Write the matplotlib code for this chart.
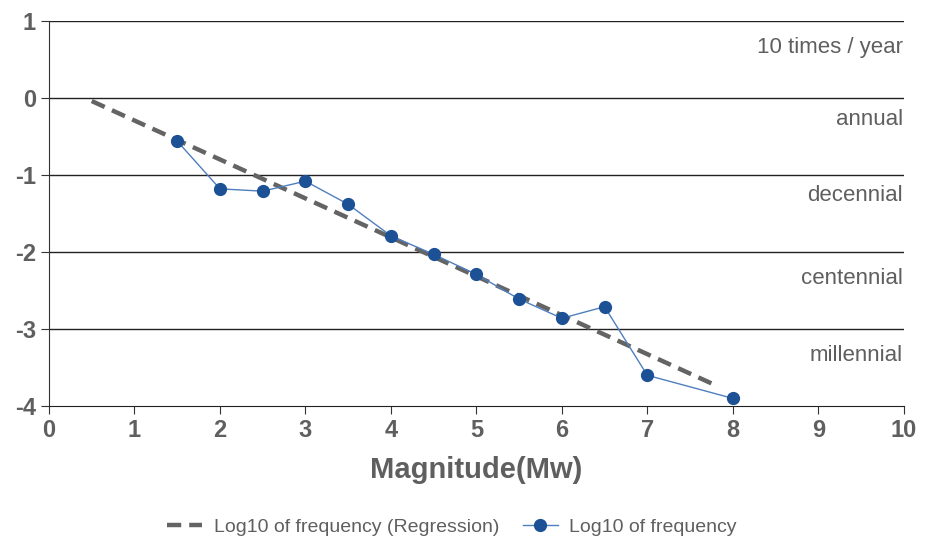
import matplotlib.pyplot as plt

# observed magnitudes and log10 frequencies
magnitude = [1.5, 2, 2.5, 3, 3.5, 4, 4.5, 5, 5.5, 6, 6.5, 7, 8]
log_freq = [-0.56, -1.18, -1.21, -1.08, -1.38, -1.79, -2.03, -2.29, -2.61, -2.86, -2.71, -3.60, -3.90]

# regression line end points
reg_x = [0.5, 7.82]
reg_y = [-0.04, -3.74]

# frequency bands on the right side
band_labels = ["10 times / year", "annual", "decennial", "centennial", "millennial"]
band_y = [0.66, -0.28, -1.26, -2.35, -3.34]

plt.rcParams["axes.unicode_minus"] = False
grey = "#5f5f5f"
font = ["Liberation Sans", "DejaVu Sans"]

fig = plt.figure(figsize=(9.28, 5.51), dpi=100)
ax = fig.add_axes([0.0528, 0.263, 0.921, 0.699])

for yv in range(-3, 2):
    ax.axhline(yv, color="#222222", lw=1.0, zorder=1)

ax.plot(reg_x, reg_y, color="#646464", lw=3.2, ls=(0, (3.2, 1.8)),
        label="Log10 of frequency (Regression)", zorder=2)
ax.plot(magnitude, log_freq, color="#4f7fbf", lw=1.0, marker="o",
        markersize=8.5, markerfacecolor="#1c5196", markeredgecolor="#1c5196",
        label="Log10 of frequency", zorder=3)

for lab, yv in zip(band_labels, band_y):
    ax.text(9.99, yv, lab, ha="right", va="center", fontsize=16,
            color=grey, family=font)

ax.set_xlim(0, 10)
ax.set_ylim(-4, 1)
ax.set_xticks(range(0, 11))
ax.set_yticks(range(-4, 2))
for sp in ["top", "right"]:
    ax.spines[sp].set_visible(False)
ax.spines["left"].set_color("#333333")
ax.spines["bottom"].set_color("#222222")
ax.tick_params(axis="both", colors="#333333", length=6, labelcolor=grey,
               labelsize=17)
for t in ax.get_xticklabels() + ax.get_yticklabels():
    t.set_family(font)
    t.set_fontweight("bold")

ax.set_xlabel("Magnitude(Mw)", fontsize=21, fontweight="bold", color=grey,
              family=font, labelpad=10)

fig.legend(loc="lower center", bbox_to_anchor=(0.487, -0.005), ncol=2,
           frameon=False, prop={"family": font, "size": 14},
           labelcolor=grey, handlelength=1.8, handletextpad=0.6,
           columnspacing=1.2)

fig.savefig("out.png", dpi=100)
